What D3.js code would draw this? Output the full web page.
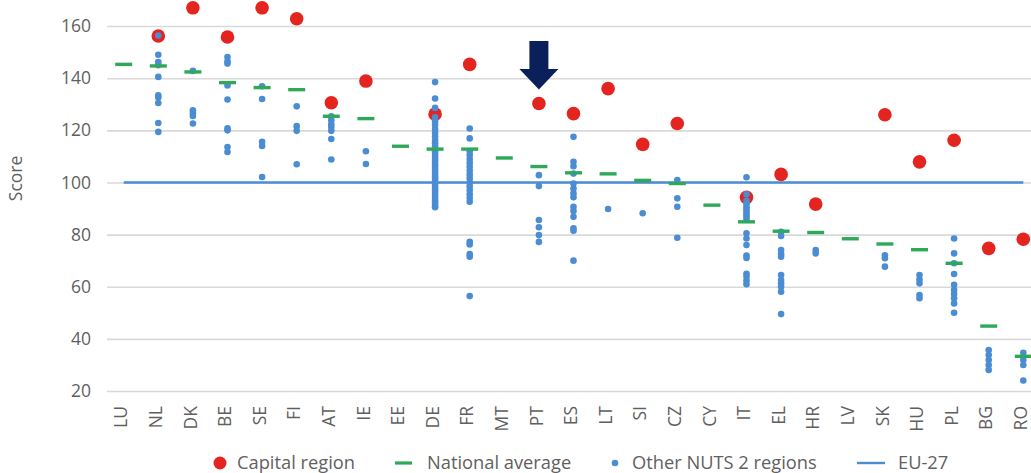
<!DOCTYPE html>
<html>
<head>
<meta charset="utf-8">
<script src="https://cdn.jsdelivr.net/npm/d3@7/dist/d3.min.js"></script>
<style>
  html, body { margin: 0; padding: 0; background: #fff; }
  svg { display: block; font-family: "Open Sans", "Noto Sans", sans-serif; }
</style>
</head>
<body>
<svg id="chart" width="1031" height="473"></svg>
<script>
const countries = ["LU","NL","DK","BE","SE","FI","AT","IE","EE","DE","FR","MT","PT","ES","LT","SI","CZ","CY","IT","EL","HR","LV","SK","HU","PL","BG","RO"];

const nationalAverage = [145.3,144.7,142.4,138.3,136.4,135.6,125.4,124.5,113.9,112.8,112.8,109.4,106.1,103.7,103.3,100.8,99.6,91.3,84.9,81.3,80.8,78.4,76.4,74.2,69.0,44.9,33.3];

const capitalRegion = [null,156.2,167.0,155.8,167.0,162.8,130.6,138.9,null,126.2,145.3,null,130.3,126.4,136.0,114.6,122.6,null,94.3,103.1,91.7,null,126.0,107.9,116.2,74.7,78.2];

const otherRegions = [
  [],
  [156.4,149.0,146.2,145.0,140.5,133.4,132.6,130.5,122.8,119.4],
  [142.8,127.7,126.6,125.5,122.6],
  [148.1,146.5,145.6,137.2,131.8,120.8,120.0,113.6,111.7],
  [136.9,132.0,115.6,114.0,102.1],
  [129.2,121.6,119.8,107.0],
  [125.4,123.9,122.3,121.3,119.8,116.7,108.8],
  [112.0,107.1],
  [],
  [138.5,132.2,128.6,125.0,123.5,122.0,120.5,119.0,117.5,116.0,115.0,114.0,113.0,112.0,111.0,110.0,109.0,108.0,107.0,106.0,105.0,104.0,103.0,102.0,101.0,100.0,99.0,98.0,97.0,96.0,95.0,94.0,93.0,92.0,91.0,90.5],
  [120.7,116.9,112.0,110.5,109.0,107.5,106.0,104.5,103.0,101.5,100.0,98.5,97.0,95.5,94.0,92.6,77.2,76.2,72.5,71.5,56.4],
  [],
  [102.8,98.6,85.6,82.8,79.8,77.2],
  [117.5,107.9,106.2,103.4,99.6,97.7,95.8,94.3,90.7,89.1,86.8,82.4,81.5,70.0],
  [89.8],
  [88.2],
  [100.9,93.9,90.7,78.8],
  [],
  [102.0,95.5,93.0,92.0,91.0,90.0,89.0,88.0,87.0,86.0,80.5,78.5,76.0,72.0,71.0,65.0,64.0,62.5,61.0],
  [81.1,79.5,74.1,72.5,71.5,64.5,62.6,61.3,60.0,58.1,49.5],
  [74.1,72.8],
  [],
  [72.1,70.9,67.7],
  [64.5,62.8,61.3,56.8,55.6],
  [78.5,72.8,69.0,64.9,60.7,58.7,57.2,55.6,53.6,50.0],
  [35.7,33.8,31.9,30.0,28.1],
  [34.7,31.9,30.0,24.0]
];

const euAverage = 100;
const yTicks = [20,40,60,80,100,120,140,160];
const yLabel = "Score";
const legendLabels = ["Capital region","National average","Other NUTS 2 regions","EU-27"];
const highlightCountry = "PT";

const C = { red:"#e3241f", green:"#2fa85a", blue:"#4a8dd2", grid:"#d9d9d9", text:"#5f5f5f", navy:"#0b1f5b" };

const svg = d3.select("#chart");
const plotLeft = 107, plotRight = 1031;
const x = d3.scalePoint().domain(countries).range([123.7, 1023.3]);
const y = d3.scaleLinear().domain([20, 170]).range([391, 0]);

// Y axis + gridlines
const yAxis = svg.append("g")
  .attr("transform", `translate(${plotLeft},0)`)
  .call(d3.axisLeft(y).tickValues(yTicks).tickSize(-(plotRight - plotLeft)).tickPadding(16));
yAxis.select(".domain").remove();
yAxis.selectAll(".tick line").attr("stroke", C.grid).attr("stroke-width", 1.6);
yAxis.selectAll(".tick text").attr("fill", C.text).style("font-size", "17.5px")
  .style("font-family", "'Open Sans', sans-serif");

// Y label
svg.append("text")
  .attr("transform", `translate(22,${y(100) - 4}) rotate(-90)`)
  .attr("text-anchor", "middle")
  .attr("fill", C.text)
  .style("font-size", "17.5px")
  .text(yLabel);

// X axis labels
const xAxis = svg.append("g")
  .attr("transform", `translate(0,${y(20)})`)
  .call(d3.axisBottom(x).tickSize(0));
xAxis.select(".domain").remove();
xAxis.selectAll(".tick text")
  .attr("transform", "rotate(-90)")
  .attr("x", -15)
  .attr("y", -3)
  .attr("dy", "0.35em")
  .style("text-anchor", "end")
  .attr("fill", C.text)
  .style("font-size", "17.5px")
  .style("font-family", "'Open Sans', sans-serif");

// EU-27 line
svg.append("line")
  .attr("x1", x(countries[0])).attr("x2", x(countries[countries.length - 1]))
  .attr("y1", y(euAverage)).attr("y2", y(euAverage))
  .attr("stroke", C.blue).attr("stroke-width", 2.4);

// Capital regions
svg.append("g").selectAll("circle")
  .data(countries.map((c, i) => ({ c, v: capitalRegion[i] })).filter(d => d.v != null))
  .join("circle")
  .attr("cx", d => x(d.c)).attr("cy", d => y(d.v)).attr("r", 6.8)
  .attr("fill", C.red);

// Other NUTS 2 regions
const others = [];
countries.forEach((c, i) => otherRegions[i].forEach(v => others.push({ c, v })));
svg.append("g").selectAll("circle")
  .data(others)
  .join("circle")
  .attr("cx", d => x(d.c)).attr("cy", d => y(d.v)).attr("r", 3.3)
  .attr("fill", C.blue);

// National averages
svg.append("g").selectAll("line")
  .data(countries.map((c, i) => ({ c, v: nationalAverage[i] })))
  .join("line")
  .attr("x1", d => x(d.c) - 8.5).attr("x2", d => x(d.c) + 8.5)
  .attr("y1", d => y(d.v)).attr("y2", d => y(d.v))
  .attr("stroke", C.green).attr("stroke-width", 3.4);

// Arrow annotation above highlighted country
const ax = x(highlightCountry);
const tipY = y(capitalRegion[countries.indexOf(highlightCountry)]) - 14;
svg.append("path")
  .attr("d", `M${ax-9.5},41 L${ax+9.5},41 L${ax+9.5},69 L${ax+19.5},69 L${ax},${tipY} L${ax-19.5},69 L${ax-9.5},69 Z`)
  .attr("fill", C.navy);

// Legend
const ly = 463;
const lg = svg.append("g").style("font-size", "18.3px").attr("fill", C.text);
lg.append("circle").attr("cx", 220).attr("cy", ly).attr("r", 6.5).attr("fill", C.red);
lg.append("text").attr("x", 237).attr("y", ly).attr("dy", "0.35em").attr("fill", C.text).text(legendLabels[0]);
lg.append("line").attr("x1", 395).attr("x2", 412).attr("y1", ly).attr("y2", ly).attr("stroke", C.green).attr("stroke-width", 3.2);
lg.append("text").attr("x", 427).attr("y", ly).attr("dy", "0.35em").attr("fill", C.text).text(legendLabels[1]);
lg.append("circle").attr("cx", 615).attr("cy", ly).attr("r", 3.3).attr("fill", C.blue);
lg.append("text").attr("x", 632).attr("y", ly).attr("dy", "0.35em").attr("fill", C.text).text(legendLabels[2]);
lg.append("line").attr("x1", 857).attr("x2", 885).attr("y1", ly).attr("y2", ly).attr("stroke", C.blue).attr("stroke-width", 2.4);
lg.append("text").attr("x", 898).attr("y", ly).attr("dy", "0.35em").attr("fill", C.text).text(legendLabels[3]);
</script>
</body>
</html>
